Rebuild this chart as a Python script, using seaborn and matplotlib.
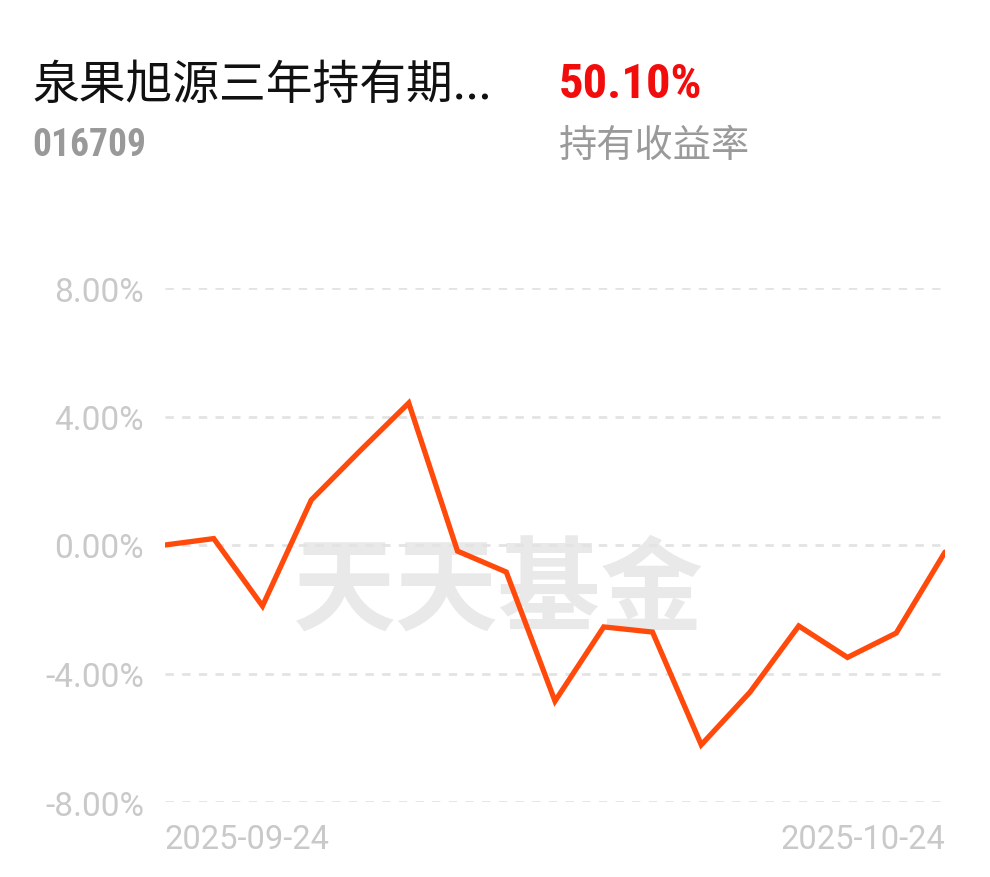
import numpy as np
import pandas as pd
import matplotlib
matplotlib.use('Agg')
import matplotlib.pyplot as plt
import seaborn as sns
from matplotlib import font_manager as fm

# данные
dates = ['2025-09-24', '2025-09-25', '2025-09-26', '2025-09-29', '2025-09-30',
         '2025-10-09', '2025-10-10', '2025-10-13', '2025-10-14', '2025-10-15',
         '2025-10-16', '2025-10-17', '2025-10-20', '2025-10-21', '2025-10-22',
         '2025-10-23', '2025-10-24']
returns = [0.00, 0.20, -1.90, 1.40, 2.93, 4.42, -0.19, -0.84, -4.86, -2.55,
           -2.71, -6.22, -4.58, -2.52, -3.50, -2.74, -0.22]
y_ticks = [8, 4, 0, -4, -8]
fund_name = '泉果旭源三年持有期...'
fund_code = '016709'
total_return = '50.10%'
return_label = '持有收益率'
watermark = '天天基金'

sns.set_style('white')
plt.rcParams['font.family'] = ['Roboto', 'Noto Sans CJK SC', 'DejaVu Sans']
cjk = ['Noto Sans CJK SC', 'DejaVu Sans']
names = {f.name for f in fm.fontManager.ttflist}
narrow = ['Liberation Sans Narrow'] if 'Liberation Sans Narrow' in names else ['Roboto Condensed', 'Roboto']

df = pd.DataFrame({'idx': np.arange(len(dates)), 'ret': returns})

fig = plt.figure(figsize=(9.9, 8.78), dpi=100)
ax = fig.add_axes([165 / 990, 1 - 803 / 878, 780 / 990, 514 / 878])

grid_c = '#e3e3e3'
for t in y_ticks:
    ax.axhline(t, xmin=0, xmax=775 / 780, color=grid_c, lw=2, ls=(0, (3, 3)), zorder=1)

ax.text(0.427, 0.41, watermark, transform=ax.transAxes, ha='center', va='center',
        fontsize=74, fontweight='bold', color='#e9e9e9', family=cjk, zorder=0)

sns.lineplot(data=df, x='idx', y='ret', ax=ax, color='#ff4a0c', lw=3.8, zorder=3,
             solid_joinstyle='miter')

ax.set_xlim(0, len(dates) - 1)
ax.set_ylim(-8, 8)
ax.set_yticks(y_ticks)
ax.set_yticklabels([f'{t:.2f}%' for t in y_ticks])
ax.set_xticks([])
ax.set_xlabel('')
ax.set_ylabel('')
ax.tick_params(axis='y', length=0, pad=15, labelsize=24, labelcolor='#c9c9c9')
for s in ax.spines.values():
    s.set_visible(False)

ax.text(0, -0.072, dates[0], transform=ax.transAxes, ha='left', va='center',
        fontsize=23.5, color='#c9c9c9')
ax.text(1, -0.072, dates[-1], transform=ax.transAxes, ha='right', va='center',
        fontsize=23.5, color='#c9c9c9')

# заголовок
fig.text(32 / 990, 1 - 86 / 878, fund_name, ha='left', va='center', fontsize=33.7,
         color='#111111', family=cjk)
fig.text(32 / 990, 1 - 145 / 878, fund_code, ha='left', va='center', fontsize=27,
         color='#999999', fontweight='bold', family=narrow)
fig.text(559 / 990, 1 - 85 / 878, total_return, ha='left', va='center', fontsize=35,
         color='#f20d0d', fontweight='bold', family=narrow)
fig.text(559 / 990, 1 - 147 / 878, return_label, ha='left', va='center', fontsize=27.5,
         color='#9a9a9a', family=cjk)

fig.savefig('out.png', dpi=100, facecolor='white')
